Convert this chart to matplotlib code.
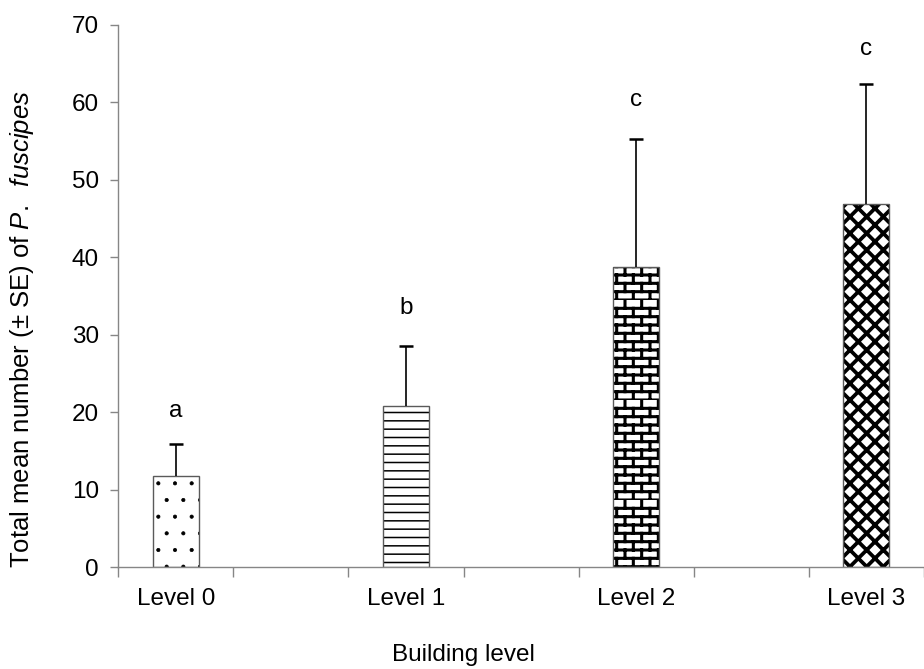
import numpy as np
import matplotlib
matplotlib.use("Agg")
import matplotlib.pyplot as plt
import matplotlib.hatch as mhatch
from matplotlib.path import Path

# Data
levels = ["Level 0", "Level 1", "Level 2", "Level 3"]
means = [11.8, 20.8, 38.8, 46.9]
se = [4.1, 7.7, 16.5, 15.5]
letters = ["a", "b", "c", "c"]
letter_y = [20.2, 33.5, 60.3, 66.9]


class BrickHatch(mhatch.HatchPatternBase):
    """Brick wall hatch, triggered by the 'B' character."""

    def __init__(self, hatch, density):
        self.num_rows = hatch.count('B') * 12
        self.num_cols = 6
        self.num_vertices = (self.num_rows + self.num_rows * self.num_cols) * 2

    def set_vertices_and_codes(self, vertices, codes):
        verts = []
        for k in range(self.num_rows):
            y0 = k / self.num_rows
            y1 = (k + 1) / self.num_rows
            verts += [(0.0, y0), (1.0, y0)]
            shift = 0.5 * (k % 2)
            for j in range(self.num_cols):
                x = (j + shift) / self.num_cols
                verts += [(x, y0), (x, y1)]
        vertices[:] = np.array(verts)
        codes[0::2] = Path.MOVETO
        codes[1::2] = Path.LINETO


mhatch._hatch_types.append(BrickHatch)

plt.rcParams['font.family'] = ['Liberation Sans', 'DejaVu Sans']
plt.rcParams['mathtext.fontset'] = 'custom'
plt.rcParams['mathtext.rm'] = 'Liberation Sans'
plt.rcParams['mathtext.it'] = 'Liberation Sans:italic'

fs = 17.5
fig = plt.figure(figsize=(9.24, 6.69), dpi=100)
ax = fig.add_axes([0.128, 0.152, 0.872, 0.811])

x = np.arange(len(levels))
hatches = ['.', '--', 'B', 'xx']
hatch_lw = [0.5, 1.1, 2.2, 2.7]
for i in range(len(levels)):
    # hatched fill (black), then a gray outline on top
    with plt.rc_context({'hatch.linewidth': hatch_lw[i], 'hatch.color': 'black'}):
        b = ax.bar(x[i], means[i], width=0.2, color='white', edgecolor='black',
                   linewidth=0, hatch=hatches[i], zorder=2)
    for p in b.patches:
        if hasattr(p, 'set_hatch_linewidth'):
            p.set_hatch_linewidth(hatch_lw[i])
    ax.bar(x[i], means[i], width=0.2, fill=False, edgecolor='#5a5a5a',
           linewidth=1.0, zorder=2.5)

# upper error bars only
eb = ax.errorbar(x, means, yerr=[np.zeros(len(se)), se], fmt='none',
                 ecolor='black', elinewidth=1.2, capsize=4.7, capthick=1.8, zorder=3)
eb[1][0].set_visible(False)

for i in range(len(levels)):
    ax.text(x[i], letter_y[i], letters[i], ha='center', va='center', fontsize=fs)

ax.set_ylim(0, 70)
ax.set_xlim(-0.25, 3.215)
ax.set_yticks(np.arange(0, 71, 10))
ax.set_xticks(x)
ax.set_xticklabels(levels, fontsize=fs)
ax.set_xticks(np.arange(-0.25, 3.3, 0.5), minor=True)
ax.tick_params(axis='x', which='major', length=0, pad=15)
ax.tick_params(axis='x', which='minor', length=7, color='#868686', width=1)
ax.tick_params(axis='y', length=6, color='#868686', width=1, labelsize=fs, pad=8)

for side in ['top', 'right']:
    ax.spines[side].set_visible(False)
for side in ['left', 'bottom']:
    ax.spines[side].set_color('#868686')
    ax.spines[side].set_linewidth(1)

fig.text(22 / 924, 1 - 329 / 669,
         'Total mean number (\u00b1 SE) of $\\it{P.}$  $\\it{fuscipes}$',
         rotation=90, ha='center', va='center', fontsize=18.5)
fig.text(463 / 924, 1 - 655 / 669, 'Building level', ha='center', va='center', fontsize=fs)

fig.savefig('out.png', dpi=100)
